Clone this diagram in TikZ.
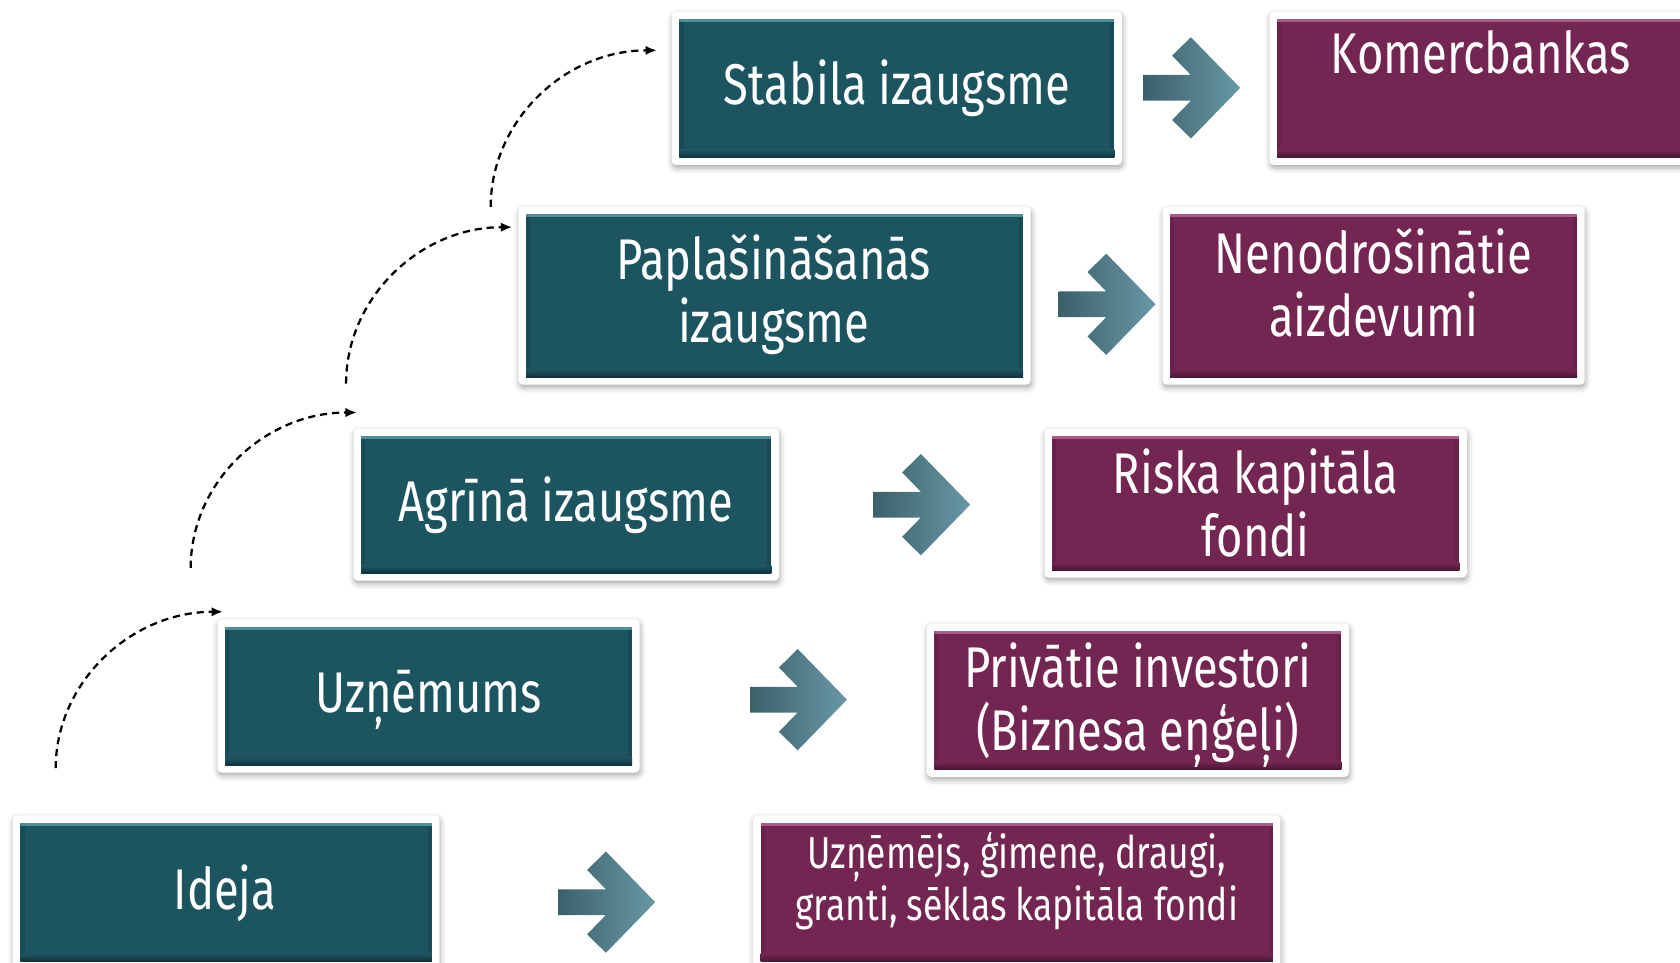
\documentclass[tikz,border=0pt]{standalone}
\usepackage{fontspec}
\setmainfont[FakeStretch=0.79]{Fira Sans}
\usetikzlibrary{calc,backgrounds,arrows.meta,shadows.blur}
\definecolor{tealc}{RGB}{28,84,96}
\definecolor{tealtop}{RGB}{80,142,152}
\definecolor{tealdark}{RGB}{16,52,60}
\definecolor{purc}{RGB}{115,38,82}
\definecolor{purtop}{RGB}{170,90,135}
\definecolor{purdark}{RGB}{74,22,52}
\definecolor{arrdark}{RGB}{60,96,106}
\definecolor{arrlight}{RGB}{104,152,165}
\def\px{0.02cm}
\newcommand\chevarrow[2]{%
  \begin{scope}[shift={(#1,#2)}]
    \shade[left color=arrdark, right color=arrlight]
      (0,-12) -- (44.5,-12) -- (27,-30) -- (44.5,-47.3) -- (90.5,0) --
      (44.5,47.3) -- (27,30) -- (44.5,12) -- (0,12) -- cycle;
  \end{scope}}
\begin{document}
\begin{tikzpicture}[x=0.02cm,y=-0.02cm,
  box/.style 2 args={minimum width=#1*\px, minimum height=#2*\px,
    inner sep=0pt, outer sep=0pt, anchor=center},
  bevel/.style n args={3}{fill=#1, path picture={
    \fill[#3, opacity=.25] (path picture bounding box.north west) rectangle
      ([xshift=4*\px]path picture bounding box.south west);
    \fill[#3, opacity=.25] (path picture bounding box.north east) rectangle
      ([xshift=-4*\px]path picture bounding box.south east);
    \shade[top color=#1, bottom color=#3]
      ([yshift=7*\px]path picture bounding box.south west) rectangle
      (path picture bounding box.south east);
    \fill[#2] (path picture bounding box.north west) rectangle
      ([yshift=-3*\px]path picture bounding box.north east);
  }},
  tealbox/.style={bevel={tealc}{tealtop}{tealdark}},
  purbox/.style={bevel={purc}{purtop}{purdark}},
  frame/.style={fill=white, rounded corners=0.08cm,
    blur shadow={shadow xshift=0.4pt, shadow yshift=-1.6pt,
      shadow blur radius=3pt, shadow opacity=35}},
  lbl/.style={text=white, font=\fontsize{30.5pt}{36pt}\selectfont,
    anchor=base, inner sep=0pt},
  lbls/.style={lbl, font=\fontsize{23.8pt}{29pt}\selectfont},
  flow/.style={dash pattern=on 3.8pt off 2.6pt, line width=1.2pt,
    -{Latex[length=6pt,width=5pt]}}
]
\useasboundingbox (0,0) rectangle (1568,898);

% boxes
\node[box={406}{129}, tealbox] (stab) at (837,82.5) {};
\node[box={388}{129}, purbox]  (kom)  at (1386,82.5) {};
\node[box={464}{152}, tealbox] (papl) at (723,276) {};
\node[box={380}{152}, purbox]  (nen)  at (1282,276) {};
\node[box={383}{128}, tealbox] (agr)  at (528.5,471) {};
\node[box={380}{125}, purbox]  (risk) at (1172,469.5) {};
\node[box={380}{129}, tealbox] (uzn)  at (400,649.5) {};
\node[box={380}{129}, purbox]  (priv) at (1062,653.5) {};
\node[box={384}{129}, tealbox] (ideja) at (211,832.5) {};
\node[box={478}{129}, purbox]  (uzm)  at (949,832.5) {};

% white frames
\begin{scope}[on background layer]
\foreach \n in {stab,kom,papl,nen,agr,risk,uzn,priv,ideja,uzm}
  \path[frame] ($(\n.north west)+(-7,-7)$) rectangle ($(\n.south east)+(7,7)$);
\end{scope}

% texts
\node[lbl] (tstab) at (837,98) {Stabila izaugsme};
\node[lbl] (tkom) at (1382,69) {Komercbankas};
\node[lbl] (tpapl1) at (722,261) {Paplašināšanās};
\node[lbl] (tpapl2) at (722,320) {izaugsme};
\node[lbl] (tnen1) at (1282,255) {Nenodrošinātie};
\node[lbl] (tnen2) at (1282,314) {aizdevumi};
\node[lbl] (tagr) at (528,487) {Agrīnā izaugsme};
\node[lbl] (trisk1) at (1172,461) {Riska kapitāla};
\node[lbl] (trisk2) at (1172,519) {fondi};
\node[lbl] (tuzn) at (400,665) {Uzņēmums};
\node[lbl] (tpriv1) at (1062,642) {Privātie investori};
\node[lbl] (tpriv2) at (1062,700) {(Biznesa eņģeļi)};
\node[lbl] (tideja) at (210,849) {Ideja};
\node[lbls] (tuzm1) at (949,811) {Uzņēmējs, ģimene, draugi,};
\node[lbls] (tuzm2) at (949,859) {granti, sēklas kapitāla fondi};

% block arrows
\chevarrow{1067}{82}
\chevarrow{988}{284}
\chevarrow{815}{471}
\chevarrow{700}{653}
\chevarrow{521}{842}

% dashed curved arrows
\coordinate (c1s) at (52,717);  \coordinate (c1e) at (208,571);
\coordinate (c2s) at (178,530); \coordinate (c2e) at (333,385);
\coordinate (c3s) at (323,358); \coordinate (c3e) at (478,212);
\coordinate (c4s) at (458,193); \coordinate (c4e) at (613,47);
\foreach \i in {1,2,3,4}
  \draw[flow] (c\i s) .. controls +(0,-80) and +(-86,0) .. (c\i e);
\end{tikzpicture}
\end{document}
